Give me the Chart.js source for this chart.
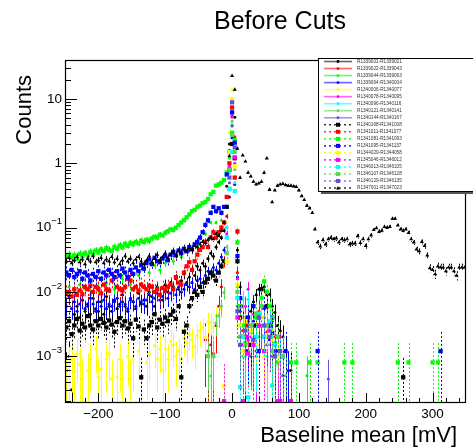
<!DOCTYPE html>
<html><head><meta charset="utf-8">
<script src="https://cdn.jsdelivr.net/npm/chart.js@4.4.0/dist/chart.umd.min.js"></script>
<style>html,body{margin:0;padding:0;background:#fff}</style>
</head><body>
<canvas id="c" width="473" height="447"></canvas>
<script>
// ---------- data ----------
const BIN_START = -248;   // first bin centre of the dense left-side arrays [mV]
const BIN_WIDTH = 4;      // histogram bin width [mV]

const runLabels = [
  'R1339001-R1339021','R1339022-R1339043','R1339044-R1339063','R1339064-R1340004',
  'R1340006-R1340077','R1340078-R1340095','R1340096-R1340116','R1340121-R1340141',
  'R1340144-R1340167','R1340168-R1341008','R1341011-R1341077','R1341081-R1341093',
  'R1341095-R1341137','R1344029-R1344058','R1345046-R1346012','R1346013-R1346105',
  'R1346107-R1346128','R1346129-R1346135','R1347001-R1347023'];

// weight of one entry (normalised count) per run range, used for Poisson error bars
const countWeight = [5e-4,1.2e-3,5e-4,6e-4,4.4e-4,1e-3,1e-3,4.9e-4,4.4e-4,
                     4.7e-4,1e-3,8e-4,1.18e-3,3.4e-4,1.5e-3,5e-4,1e-3,1e-3,5e-4];

const xTickValues = [-200,-100,0,100,200,300];
const xTickLabels = ['\u2212200','\u2212100','0','100','200','300'];
const yTickExponents = [-3,-2,-1,0,1];

// dense arrays: bins from -248 to -12 mV
const s1Left = [0.0006,0.0010,0.0003,0.0045,0.0060,0.0040,0.0075,0.0050,0.0065,0.0045,
  0.0080,0.0055,0.0050,0.0070,0.0045,0.0085,0.0060,0.0050,0.0075,0.0055,
  0.0065,0.0090,0.0060,0.0050,0.0080,0.0070,0.0055,0.0095,0.0065,0.0075,
  0.0060,0.0100,0.0085,0.0060,0.0120,0.0090,0.0075,0.0130,0.0100,0.0140,
  0.0120,0.0160,0.0110,0.0150,0.0190,0.0140,0.0170,0.0220,0.0180,0.0250,
  0.0220,0.0280,0.0250,0.0330,0.0400,0.0360,0.0500,0.0600,0.0700,0.0900];
const s1Right = [[-8,0.44],[-4,2.0],[4,5.2],[8,0.045],[12,0.012],[16,0.006],[20,0.004],[24,0.0035],
  [28,0.005],[32,0.007],[36,0.009],[40,0.011],[44,0.011],[48,0.012],[52,0.009],[56,0.0092],
  [60,0.006],[64,0.0048],[68,0.003],[72,0.0025],[76,0.002],[80,0.0012],[88,0.0006]];

const s2Pts = [[-40,0.0018],[-36,0.0012],[-32,0.0015],[-28,0.0011],[-24,0.003],[-20,0.006],[-16,0.012],
  [-12,0.03],[-8,0.15],[-4,1.6],[0,5.5],[4,2.6],[8,0.02],[12,0.004],[16,0.0025],[20,0.0012],[24,0.0018],
  [32,0.003],[36,0.0012],[40,0.005],[48,0.004],[52,0.0024],[56,0.003],[64,0.002],[72,0.0012]];

const s3Pts = [[-244,0.012],[-236,0.010],[-228,0.013],[-220,0.011],[-212,0.009],[-200,0.012],[-188,0.014],
  [-176,0.011],[-164,0.016],[-152,0.013],[-140,0.018],[-132,0.024],[-124,0.02],[-116,0.026],[-108,0.022],
  [-100,0.028],[-88,0.03],[-76,0.035],[-64,0.045],[-52,0.05],[-40,0.08],[-32,0.12],[-24,0.12],[-16,0.13],
  [-8,0.3],[-4,1.2],[0,4],[4,1.5],[8,0.06],[12,0.004],[20,0.002],[28,0.001],[40,0.004],[52,0.006],
  [60,0.002],[68,0.001],[112,0.0005]];

const s4Left = [0.0060,0.0085,0.0055,0.0070,0.0050,0.0065,0.0075,0.0055,0.0060,0.0080,
  0.0065,0.0050,0.0070,0.0060,0.0075,0.0055,0.0065,0.0060,0.0070,0.0080,
  0.0060,0.0070,0.0065,0.0055,0.0075,0.0070,0.0060,0.0080,0.0070,0.0065,
  0.0075,0.0090,0.0070,0.0080,0.0095,0.0075,0.0085,0.0100,0.0080,0.0095,
  0.0110,0.0090,0.0120,0.0100,0.0110,0.0130,0.0120,0.0140,0.0110,0.0150,
  0.0160,0.0140,0.0180,0.0210,0.0190,0.0240,0.0220,0.0280,0.0350,0.0450];
const s4Right = [[-8,0.1],[-4,0.3],[0,2.5],[4,0.47],[8,0.017],[12,0.005],[16,0.002],[24,0.0012],
  [32,0.0035],[40,0.0045],[48,0.003],[56,0.0018],[68,0.0012],[84,0.0006]];

const s5Pts = [[-248,0.00044],[-244,0.0008],[-240,0.0009],[-236,0.00057],[-232,0.0011],[-228,0.00075],
  [-224,0.00044],[-216,0.0006],[-212,0.0009],[-204,0.0013],[-200,0.00047],[-196,0.00063],[-188,0.0009],
  [-184,0.0011],[-180,0.00044],[-172,0.00047],[-168,0.0009],[-164,0.00044],[-156,0.001],[-152,0.00044],
  [-148,0.0009],[-140,0.0012],[-136,0.00044],[-128,0.0008],[-124,0.0011],[-116,0.00145],[-112,0.0009],
  [-108,0.0013],[-104,0.0006],[-100,0.0013],[-96,0.0009],[-92,0.0017],[-88,0.0015],[-84,0.001],
  [-80,0.0012],[-76,0.0009],[-72,0.0019],[-68,0.0016],[-64,0.0022],[-60,0.0018],[-56,0.0014],
  [-52,0.0021],[-48,0.0025],[-44,0.0028],[-40,0.002],[-36,0.0035],[-32,0.0033],[-28,0.0028],
  [-24,0.0042],[-20,0.0045],[-16,0.0054],[-8,0.12],[-4,3.0],[0,14],[4,0.5],[8,0.013],[12,0.002],
  [20,0.004],[28,0.0015],[36,0.003],[48,0.001],[56,0.002]];

const s6Pts = [[-8,0.08],[-4,0.9],[0,5.2],[4,1.0],[8,0.016],[12,0.003],[16,0.0015],[20,0.006],[24,0.011],
  [28,0.002],[32,0.0045],[36,0.001],[44,0.003],[52,0.002],[60,0.0035],[68,0.001],[76,0.001]];
const s7Pts = [[-8,0.1],[-4,0.7],[0,6.9],[4,0.5],[8,0.01],[12,0.002],[16,0.0077],[20,0.001],[24,0.0077],
  [28,0.003],[36,0.0015],[44,0.004],[52,0.001],[60,0.002],[72,0.001]];
const s8Pts = [[-36,0.00098],[-32,0.00049],[-28,0.001],[-24,0.0033],[-20,0.0042],[-16,0.006],[-12,0.0098],
  [-8,0.05],[-4,0.6],[0,4.5],[4,0.8],[8,0.012],[12,0.0015],[16,0.001],[24,0.002],[32,0.0029],[40,0.002],
  [48,0.004],[56,0.0015],[64,0.001],[80,0.0005]];
const s9Pts = [[-8,0.03],[-4,0.5],[0,3.8],[4,1.2],[8,0.006],[12,0.002],[20,0.003],[28,0.001],[36,0.002],
  [44,0.003],[52,0.0015],[60,0.001],[76,0.0005],[144,0.00044]];

const s10Left = [0.0028,0.0035,0.0022,0.0030,0.0038,0.0025,0.0032,0.0028,0.0042,0.0030,
  0.0026,0.0035,0.0030,0.0038,0.0033,0.0028,0.0036,0.0031,0.0024,0.0034,
  0.0039,0.0030,0.0035,0.0027,0.0032,0.0019,0.0037,0.0029,0.00047,0.0026,
  0.0019,0.0030,0.0034,0.0045,0.0028,0.0037,0.0032,0.0040,0.0035,0.0044,
  0.0050,0.0038,0.0060,0.00047,0.0024,0.0030,0.0060,0.0080,0.0100,0.0090,
  0.0120,0.0100,0.0140,0.0160,0.0200,0.0180,0.0150,0.0200,0.0250,0.0300];
const s10Right = [[-8,0.21],[-4,0.8],[0,2.0],[4,1.2],[8,0.03],[12,0.004],[20,0.002],[28,0.0015],
  [36,0.003],[44,0.011],[52,0.006],[60,0.004],[68,0.002],[76,0.001],[256,0.00047]];

const s11Left = [0.0095,0.0100,0.0085,0.0110,0.0090,0.0105,0.0092,0.0120,0.0110,0.0125,
  0.0100,0.0120,0.0110,0.0095,0.0130,0.0110,0.0105,0.0150,0.0170,0.0120,
  0.0110,0.0105,0.0120,0.0160,0.0150,0.0110,0.0120,0.0105,0.0130,0.0120,
  0.0110,0.0125,0.0120,0.0100,0.0110,0.0090,0.0115,0.0105,0.0120,0.0130,
  0.0110,0.0170,0.0140,0.0130,0.0200,0.0250,0.0290,0.0220,0.0300,0.0380,
  0.0450,0.0500,0.0600,0.0500,0.0700,0.0850,0.0700,0.0850,0.1000,0.1200];
const s11Right = [[-8,0.3],[-4,1.0],[0,7.4],[4,0.6],[8,0.087],[12,0.006],[16,0.002],[24,0.003],
  [32,0.0015],[40,0.004],[48,0.002],[56,0.003],[64,0.001]];

const s12Left = [0.035,0.038,0.034,0.037,0.033,0.039,0.036,0.040,0.037,0.042,
  0.039,0.044,0.041,0.046,0.043,0.048,0.045,0.043,0.050,0.047,
  0.053,0.049,0.056,0.052,0.058,0.055,0.060,0.057,0.063,0.060,
  0.065,0.062,0.068,0.072,0.070,0.078,0.076,0.083,0.088,0.094,
  0.092,0.100,0.110,0.120,0.130,0.145,0.160,0.180,0.190,0.210,
  0.220,0.240,0.250,0.280,0.330,0.360,0.450,0.470,0.500,0.550];
const s12Right = [[-8,0.72],[-4,0.4],[0,3.0],[4,2.3],[8,0.059],[12,0.006],[16,0.003],[20,0.0016],
  [28,0.0024],[36,0.004],[44,0.008],[48,0.0146],[52,0.01],[56,0.006],[60,0.004],[64,0.0016],[68,0.0008],
  [88,0.0008],[96,0.0008],[116,0.0008],[128,0.0008],[168,0.0008],[180,0.0008],[248,0.0008],
  [264,0.0008],[300,0.0008],[308,0.0008]];

const s13Left = [0.020,0.018,0.022,0.017,0.019,0.021,0.016,0.020,0.018,0.015,
  0.019,0.017,0.021,0.016,0.020,0.018,0.022,0.019,0.017,0.021,
  0.018,0.023,0.020,0.017,0.022,0.019,0.024,0.021,0.026,0.023,
  0.028,0.032,0.027,0.034,0.030,0.029,0.033,0.036,0.031,0.038,
  0.042,0.037,0.044,0.040,0.047,0.043,0.050,0.046,0.055,0.060,
  0.070,0.085,0.110,0.130,0.170,0.210,0.180,0.200,0.170,0.210];
const s13Right = [[-8,0.67],[-4,1.5],[0,6.2],[4,2.1],[8,0.036],[12,0.008],[20,0.0012],[24,0.004],
  [32,0.006],[40,0.0012],[48,0.0057],[56,0.003],[60,0.0023],[64,0.0012],[80,0.0012],[128,0.0012],[312,0.0012]];

const s14Pts = [[-12,0.00034],[-8,0.03],[-4,1.5],[0,10],[4,0.9],[8,0.013],[12,0.003],[16,0.0012],
  [20,0.0035],[28,0.0025],[36,0.0015],[44,0.004],[52,0.002],[60,0.0018],[68,0.001]];
const s15Pts = [[-12,0.0002],[4,1.24],[8,0.004],[16,0.0002],[20,0.002],[24,0.0011],[32,0.0015],
  [40,0.003],[48,0.0012],[56,0.0025],[68,0.0002],[72,0.0002],[88,0.0002]];
const s16Pts = [[-8,0.07],[-4,0.4],[0,1.5],[4,0.37],[8,0.008],[12,0.00033],[16,0.002],[24,0.00023],
  [28,0.003],[36,0.002],[40,0.0046],[48,0.002],[56,0.0035],[60,0.00035],[64,0.0015]];
const s17Pts = [[-36,0.001],[-28,0.001],[-8,0.04],[-4,0.8],[0,2.8],[4,1.5],[8,0.01],[12,0.002],
  [20,0.0015],[28,0.003],[36,0.0046],[44,0.006],[52,0.003],[60,0.0012],[68,0.002],[76,0.001]];
const s18Pts = [[-4,0.6],[0,8.9],[4,1.77],[8,0.005],[12,0.0015],[20,0.0025],[32,0.0018],[40,0.004],
  [48,0.003],[56,0.002],[64,0.001],[72,0.0012]];

// bins from -248 to 348 mV
const s19Vals = [0.030,0.034,0.028,0.031,0.035,0.029,0.032,0.027,0.033,0.030,
  0.036,0.029,0.031,0.034,0.028,0.032,0.030,0.035,0.029,0.033,
  0.027,0.031,0.036,0.030,0.033,0.028,0.032,0.035,0.030,0.027,
  0.031,0.036,0.029,0.033,0.038,0.031,0.035,0.040,0.034,0.038,
  0.042,0.037,0.044,0.040,0.046,0.043,0.048,0.045,0.052,0.050,
  0.055,0.060,0.058,0.065,0.070,0.066,0.080,0.075,0.090,0.120,
  0.21,1.3,23,14,1.7,0.6,1.33,1.07,0.72,0.63,
  0.52,0.47,0.49,0.52,0.72,1.2,0.39,0.25,0.38,0.45,
  0.47,0.48,0.46,0.45,0.45,0.44,0.43,0.38,0.31,0.27,
  0.22,0.20,0.17,0.094,0.059,0.051,0.064,0.055,0.066,0.070,
  0.066,0.068,0.059,0.066,0.064,0.066,0.055,0.057,0.057,0.074,
  0.058,0.066,0.052,0.066,0.076,0.092,0.098,0.087,0.090,0.103,
  0.100,0.103,0.138,0.138,0.108,0.094,0.090,0.094,0.083,0.066,
  0.059,0.046,0.043,0.060,0.052,0.037,0.0235,0.022,0.019,0.025,
  0.024,0.024,0.021,0.024,0.024,0.021,0.018,0.024,0.024,0.024];

// ---------- styling ----------
const colors = ['#000000','#ff0000','#00ff00','#0000ff','#ffff00','#ff00ff','#00ffff','#59d454','#5954d8',
                '#000000','#ff0000','#00ff00','#0000ff','#ffff00','#ff00ff','#00ffff','#59d454','#5954d8','#000000'];
const FONT = '"Liberation Sans", Arial, sans-serif';

function fromBins(vals){ const out=[]; vals.forEach((v,i)=>{ if(v!=null) out.push({x:BIN_START+BIN_WIDTH*i,y:v}); }); return out; }
function fromPairs(p){ return p.map(q=>({x:q[0],y:q[1]})); }

const seriesPoints = [
  fromBins(s1Left).concat(fromPairs(s1Right)), fromPairs(s2Pts), fromPairs(s3Pts),
  fromBins(s4Left).concat(fromPairs(s4Right)), fromPairs(s5Pts), fromPairs(s6Pts), fromPairs(s7Pts),
  fromPairs(s8Pts), fromPairs(s9Pts), fromBins(s10Left).concat(fromPairs(s10Right)),
  fromBins(s11Left).concat(fromPairs(s11Right)), fromBins(s12Left).concat(fromPairs(s12Right)),
  fromBins(s13Left).concat(fromPairs(s13Right)), fromPairs(s14Pts), fromPairs(s15Pts), fromPairs(s16Pts),
  fromPairs(s17Pts), fromPairs(s18Pts), fromBins(s19Vals)];

function markerStyle(i){ if(i===18) return 'triangle'; return i>=9 ? 'rect' : 'circle'; }
function markerRadius(i){ if(i===18) return 2.3; return i>=9 ? 3.0 : 1.5; }

const datasets = seriesPoints.map((pts,i)=>({
  label: runLabels[i], data: pts, showLine:false,
  pointStyle: markerStyle(i), pointRadius: markerRadius(i), pointHoverRadius: markerRadius(i),
  pointBackgroundColor: colors[i], pointBorderColor: colors[i], pointBorderWidth: 0,
  order: 18 - i
}));

const errorBars = {
  id:'errorBars',
  beforeDatasetDraw(chart,args){
    const i=args.index, ctx=chart.ctx, xs=chart.scales.x, ys=chart.scales.y, a=chart.chartArea;
    ctx.save(); ctx.beginPath(); ctx.rect(a.left,a.top,a.right-a.left,a.bottom-a.top); ctx.clip();
    ctx.strokeStyle=colors[i]; ctx.lineWidth=1; ctx.setLineDash(i>=9?[2,2]:[]);
    const w=countWeight[i];
    chart.data.datasets[i].data.forEach(p=>{
      const err=Math.sqrt(p.y*w), hi=p.y+err, lo=p.y-err;
      const px=Math.round(xs.getPixelForValue(p.x))+0.5;
      const yHi=ys.getPixelForValue(hi);
      const yLo= lo>0 ? Math.min(ys.getPixelForValue(lo), a.bottom+2) : a.bottom+2;
      ctx.beginPath(); ctx.moveTo(px,yHi); ctx.lineTo(px,yLo); ctx.stroke();
      const x0=xs.getPixelForValue(p.x-BIN_WIDTH/2), x1=xs.getPixelForValue(p.x+BIN_WIDTH/2);
      const py=Math.round(ys.getPixelForValue(p.y))+0.5;
      ctx.beginPath(); ctx.moveTo(x0,py); ctx.lineTo(x1,py); ctx.stroke();
    });
    ctx.restore();
  }
};

const frameAxes = {
  id:'frameAxes',
  afterDatasetsDraw(chart){
    const ctx=chart.ctx, a=chart.chartArea, xs=chart.scales.x, ys=chart.scales.y;
    ctx.save();
    ctx.strokeStyle='#000'; ctx.lineWidth=1.2; ctx.setLineDash([]);
    ctx.strokeRect(a.left+0.5,a.top+0.5,a.right-a.left-1,a.bottom-a.top-1);
    // x ticks
    ctx.lineWidth=1;
    for(let v=-240; v<=340; v+=20){
      const px=Math.round(xs.getPixelForValue(v))+0.5, len=(v%100===0)?10:5;
      ctx.beginPath(); ctx.moveTo(px,a.bottom); ctx.lineTo(px,a.bottom-len); ctx.stroke();
    }
    // y ticks (log)
    for(let e=-4; e<=1; e++){
      for(let m=1; m<=9; m++){
        const v=m*Math.pow(10,e);
        if(v<ys.min||v>ys.max) continue;
        const py=Math.round(ys.getPixelForValue(v))+0.5, len=(m===1)?12:6;
        ctx.beginPath(); ctx.moveTo(a.left,py); ctx.lineTo(a.left+len,py); ctx.stroke();
      }
    }
    // x labels
    ctx.fillStyle='#000'; ctx.font='13.5px '+FONT; ctx.textAlign='center'; ctx.textBaseline='middle';
    xTickValues.forEach((v,k)=>{ ctx.fillText(xTickLabels[k], xs.getPixelForValue(v), 414); });
    // y labels
    yTickExponents.forEach(e=>{
      const py=ys.getPixelForValue(Math.pow(10,e)), right=62;
      ctx.textBaseline='middle';
      if(e===0){ ctx.font='13.5px '+FONT; ctx.textAlign='right'; ctx.fillText('1',right,py); }
      else if(e===1){ ctx.font='13.5px '+FONT; ctx.textAlign='right'; ctx.fillText('10',right,py); }
      else{
        const sup='\u2212'+(-e);
        ctx.font='9.5px '+FONT; const ws=ctx.measureText(sup).width;
        ctx.textAlign='right'; ctx.fillText(sup,right,py-6);
        ctx.font='13.5px '+FONT; ctx.fillText('10',right-ws,py);
      }
    });
    // titles
    ctx.font='25px '+FONT; ctx.textAlign='center'; ctx.textBaseline='middle';
    ctx.fillText('Before Cuts',280,22);
    ctx.font='22px '+FONT; ctx.textAlign='right'; ctx.textBaseline='alphabetic';
    ctx.fillText('Baseline mean [mV]',457,442);
    ctx.save(); ctx.translate(31,75); ctx.rotate(-Math.PI/2);
    ctx.textAlign='right'; ctx.fillText('Counts',0,0); ctx.restore();
    ctx.restore();
  }
};

const legendBox = {
  id:'legendBox',
  afterDraw(chart){
    const ctx=chart.ctx; ctx.save();
    const bx=318, by=58, bw=200, bh=133;
    ctx.fillStyle='#555'; ctx.fillRect(bx+3,by+bh,bw,3);
    ctx.fillStyle='#fff'; ctx.fillRect(bx,by,bw,bh);
    ctx.strokeStyle='#000'; ctx.lineWidth=1; ctx.strokeRect(bx+0.5,by+0.5,bw,bh);
    for(let i=0;i<19;i++){
      const cy=61.5+i*7.03;
      ctx.save();
      ctx.strokeStyle=colors[i]; ctx.lineWidth=1.6; ctx.globalAlpha=(i>=9)?0.8:0.6;
      ctx.setLineDash(i>=9?[2,3]:[]);
      ctx.beginPath(); ctx.moveTo(324,cy); ctx.lineTo(352,cy); ctx.stroke();
      ctx.restore();
      ctx.fillStyle=colors[i];
      if(i===18){ ctx.beginPath(); ctx.moveTo(338,cy-2); ctx.lineTo(340,cy+1.5); ctx.lineTo(336,cy+1.5); ctx.closePath(); ctx.fill(); }
      else if(i>=9){ ctx.fillRect(336,cy-2,4,4); }
      else { ctx.beginPath(); ctx.arc(338,cy,1.4,0,Math.PI*2); ctx.fill(); }
      ctx.fillStyle='#333'; ctx.font='4.7px '+FONT; ctx.textAlign='left'; ctx.textBaseline='middle';
      ctx.fillText(runLabels[i],357,cy);
    }
    ctx.restore();
  }
};

new Chart(document.getElementById('c'),{
  type:'scatter',
  data:{datasets},
  options:{
    responsive:false, animation:false, devicePixelRatio:1,
    layout:{padding:{left:65,right:7,top:60,bottom:44}},
    scales:{
      x:{type:'linear',min:-250,max:350,display:false},
      y:{type:'logarithmic',min:1.87e-4,max:40.5,display:false}
    },
    plugins:{legend:{display:false},tooltip:{enabled:false},title:{display:false}}
  },
  plugins:[errorBars,frameAxes,legendBox]
});
</script>
</body></html>
